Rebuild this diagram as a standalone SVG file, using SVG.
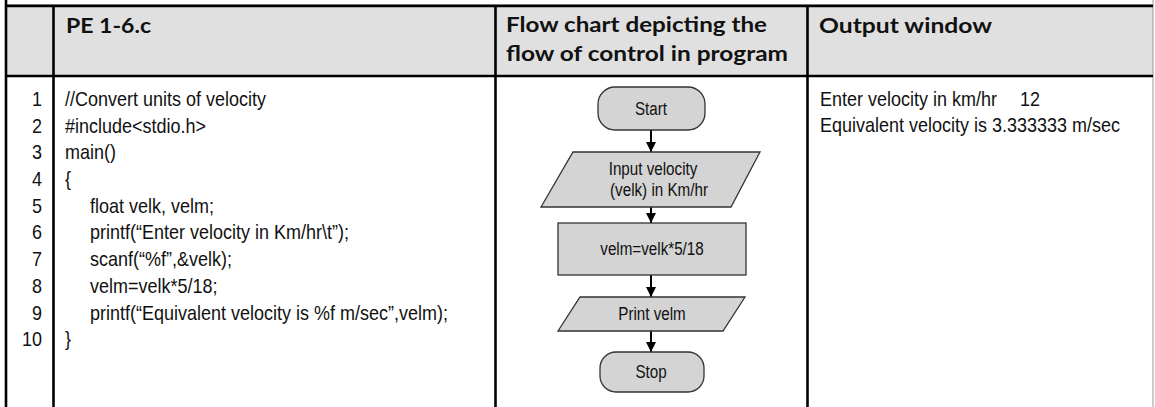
<svg xmlns="http://www.w3.org/2000/svg" width="1155" height="407" viewBox="0 0 1155 407">
<style>
.hdr{font-family:Lato,"Liberation Sans",sans-serif;font-weight:700;font-size:21px;fill:#111}
.code{font-family:"Liberation Sans",Arial,sans-serif;font-size:21px;fill:#111}
.num{font-family:"Liberation Sans",Arial,sans-serif;font-size:21px;fill:#111;text-anchor:end}
.fc{font-family:"Liberation Sans",Arial,sans-serif;font-size:19px;fill:#111;text-anchor:middle}
.shape{fill:#d4d4d4;stroke:#333;stroke-width:1.3}
.rule{stroke:#000;stroke-width:2.6;fill:none}
.conn{stroke:#000;stroke-width:2;fill:none}
</style>
<defs>
<marker id="ah" viewBox="0 0 10 10" refX="10" refY="5" markerWidth="11" markerHeight="10" markerUnits="userSpaceOnUse" orient="auto">
<path d="M0,0 L10,5 L0,10 z" fill="#000"/>
</marker>
</defs>
<rect x="0" y="0" width="1155" height="407" fill="#fff"/>
<g id="table">
<rect x="6" y="6" width="1147" height="70" fill="#e0e0e0"/>
<line x1="1153" y1="0" x2="1153" y2="407" stroke="#999" stroke-width="1"/>
<line x1="6" y1="4.5" x2="1153" y2="4.5" stroke="#999" stroke-width="1"/>
<line x1="6" y1="6" x2="1153" y2="6" class="rule"/>
<line x1="6" y1="76" x2="1153" y2="76" class="rule"/>
<line x1="6" y1="0" x2="6" y2="407" class="rule"/>
<line x1="53.5" y1="6" x2="53.5" y2="407" class="rule"/>
<line x1="495.5" y1="6" x2="495.5" y2="407" class="rule"/>
<line x1="807.5" y1="6" x2="807.5" y2="407" class="rule"/>
</g>
<g id="headers">
<text class="hdr" x="66" y="33" textLength="85" lengthAdjust="spacingAndGlyphs">PE 1-6.c</text>
<text class="hdr" x="506" y="32" textLength="261" lengthAdjust="spacingAndGlyphs">Flow chart depicting the</text>
<text class="hdr" x="506" y="61" textLength="282" lengthAdjust="spacingAndGlyphs">flow of control in program</text>
<text class="hdr" x="819" y="33" textLength="173" lengthAdjust="spacingAndGlyphs">Output window</text>
</g>
<g id="line-numbers" transform="translate(42 0) scale(0.857 1)">
<text class="num" x="0" y="106">1</text>
<text class="num" x="0" y="132.7">2</text>
<text class="num" x="0" y="159.4">3</text>
<text class="num" x="0" y="186.1">4</text>
<text class="num" x="0" y="212.8">5</text>
<text class="num" x="0" y="239.5">6</text>
<text class="num" x="0" y="266.2">7</text>
<text class="num" x="0" y="292.9">8</text>
<text class="num" x="0" y="319.6">9</text>
<text class="num" x="0" y="346.3">10</text>
</g>
<g id="code" transform="translate(65 0) scale(0.857 1)">
<text class="code" x="0" y="106">//Convert units of velocity</text>
<text class="code" x="0" y="132.7">#include&lt;stdio.h&gt;</text>
<text class="code" x="0" y="159.4">main()</text>
<text class="code" x="0" y="186.1">{</text>
<text class="code" x="29.2" y="212.8">float velk, velm;</text>
<text class="code" x="29.2" y="239.5">printf(“Enter velocity in Km/hr\t”);</text>
<text class="code" x="29.2" y="266.2">scanf(“%f”,&amp;velk);</text>
<text class="code" x="29.2" y="292.9">velm=velk*5/18;</text>
<text class="code" x="29.2" y="319.6">printf(“Equivalent velocity is %f m/sec”,velm);</text>
<text class="code" x="0" y="346.3">}</text>
</g>
<g id="output" transform="translate(820 0) scale(0.857 1)">
<text class="code" x="0" y="106">Enter velocity in km/hr</text>
<text class="code" x="233.4" y="106">12</text>
<text class="code" x="0" y="132">Equivalent velocity is 3.333333 m/sec</text>
</g>
<g id="connectors">
<line class="conn" x1="651" y1="130" x2="651" y2="152" marker-end="url(#ah)"/>
<line class="conn" x1="651" y1="207" x2="651" y2="223" marker-end="url(#ah)"/>
<line class="conn" x1="651" y1="275" x2="651" y2="297" marker-end="url(#ah)"/>
<line class="conn" x1="651" y1="331" x2="651" y2="352" marker-end="url(#ah)"/>
</g>
<g id="start">
<rect class="shape" x="598" y="87" width="107" height="43" rx="17" ry="17"/>
<text class="fc" transform="translate(651 0) scale(0.8 1)" x="0" y="115">Start</text>
</g>
<g id="input">
<polygon class="shape" points="573,152 760,152 731,207 541,207"/>
<text class="fc" transform="translate(653 0) scale(0.8 1)" x="0" y="175">Input velocity</text>
<text class="fc" transform="translate(659 0) scale(0.8 1)" x="0" y="196">(velk) in Km/hr</text>
</g>
<g id="process">
<rect class="shape" x="558" y="223" width="188" height="52"/>
<text class="fc" transform="translate(652 0) scale(0.8 1)" x="0" y="255">velm=velk*5/18</text>
</g>
<g id="print">
<polygon class="shape" points="580,297 745,297 723,331 558,331"/>
<text class="fc" transform="translate(652 0) scale(0.8 1)" x="0" y="320.5">Print velm</text>
</g>
<g id="stop">
<rect class="shape" x="600" y="352" width="104" height="40" rx="16" ry="16"/>
<text class="fc" transform="translate(651 0) scale(0.8 1)" x="0" y="378">Stop</text>
</g>
</svg>
